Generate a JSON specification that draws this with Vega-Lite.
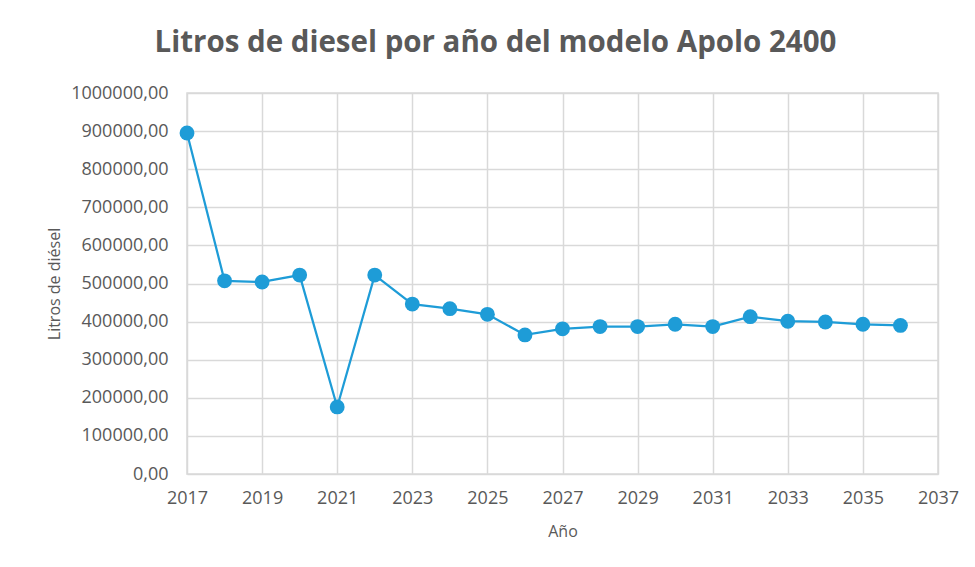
{
  "$schema": "https://vega.github.io/schema/vega-lite/v6.json",
  "autosize": {"type": "none"},
  "width": 751,
  "height": 381,
  "padding": {"left": 187, "top": 93, "right": 37, "bottom": 93},
  "background": "white",
  "title": {
    "text": "Litros de diesel por año del modelo Apolo 2400",
    "font": "Open Sans",
    "fontSize": 29.5,
    "fontWeight": "bold",
    "color": "#595959",
    "anchor": "middle",
    "dx": -67,
    "offset": 26
  },
  "data": {
    "values": [
      {"anio": 2017, "litros": 895000},
      {"anio": 2018, "litros": 507000},
      {"anio": 2019, "litros": 504000},
      {"anio": 2020, "litros": 522000},
      {"anio": 2021, "litros": 176000},
      {"anio": 2022, "litros": 522000},
      {"anio": 2023, "litros": 446000},
      {"anio": 2024, "litros": 434000},
      {"anio": 2025, "litros": 419000},
      {"anio": 2026, "litros": 365000},
      {"anio": 2027, "litros": 381000},
      {"anio": 2028, "litros": 387000},
      {"anio": 2029, "litros": 387000},
      {"anio": 2030, "litros": 393000},
      {"anio": 2031, "litros": 387000},
      {"anio": 2032, "litros": 413000},
      {"anio": 2033, "litros": 401000},
      {"anio": 2034, "litros": 399000},
      {"anio": 2035, "litros": 393000},
      {"anio": 2036, "litros": 390000}
    ]
  },
  "mark": {
    "type": "line",
    "color": "#1E9CD7",
    "strokeWidth": 2.25,
    "point": {"filled": true, "size": 220, "color": "#1E9CD7", "opacity": 1}
  },
  "encoding": {
    "x": {
      "field": "anio",
      "type": "quantitative",
      "scale": {"domain": [2017, 2037], "nice": false, "zero": false},
      "axis": {
        "title": "Año",
        "values": [2017, 2019, 2021, 2023, 2025, 2027, 2029, 2031, 2033, 2035, 2037],
        "format": "d",
        "ticks": false,
        "domain": false,
        "labelFlush": false,
        "labelPadding": 15,
        "labelFont": "Open Sans",
        "labelFontSize": 18,
        "labelColor": "#595959",
        "titleFont": "Open Sans",
        "titleFontSize": 16,
        "titleFontWeight": "normal",
        "titleColor": "#595959",
        "titlePadding": 16,
        "gridColor": "#d9d9d9",
        "gridWidth": 1.5
      }
    },
    "y": {
      "field": "litros",
      "type": "quantitative",
      "scale": {"domain": [0, 1000000], "nice": false},
      "axis": {
        "title": "Litros de diésel",
        "values": [0, 100000, 200000, 300000, 400000, 500000, 600000, 700000, 800000, 900000, 1000000],
        "labelExpr": "replace(format(datum.value, '.2f'), '.', ',')",
        "ticks": false,
        "domain": false,
        "labelFlush": false,
        "labelPadding": 19,
        "labelFont": "Open Sans",
        "labelFontSize": 18,
        "labelColor": "#595959",
        "titleFont": "Open Sans",
        "titleFontSize": 16,
        "titleFontWeight": "normal",
        "titleColor": "#595959",
        "titlePadding": 8,
        "gridColor": "#d9d9d9",
        "gridWidth": 1.5
      }
    }
  },
  "config": {
    "view": {"stroke": "#d9d9d9", "strokeWidth": 1.5}
  }
}
